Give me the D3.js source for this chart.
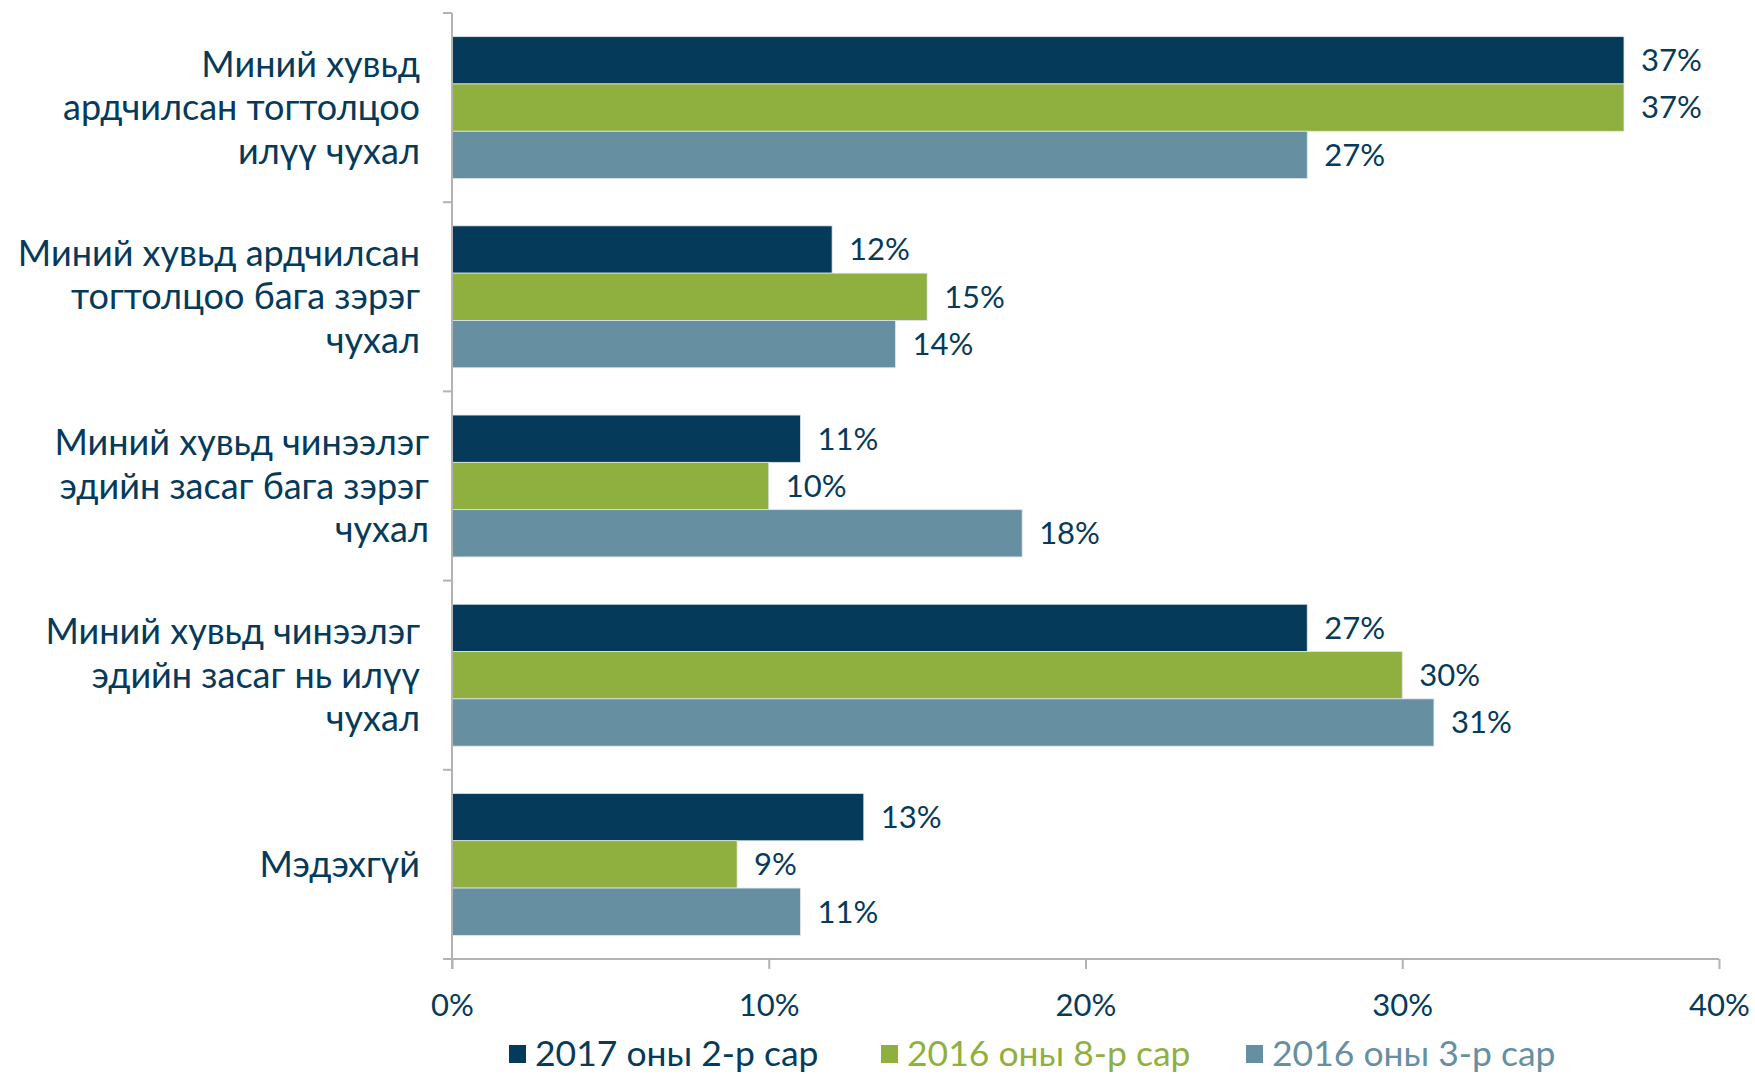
<!DOCTYPE html>
<html>
<head>
<meta charset="utf-8">
<script src="https://cdn.jsdelivr.net/npm/d3@7"></script>
<style>
  body { margin: 0; background: #fff; }
  text { font-family: Lato, "Open Sans", sans-serif; }
</style>
</head>
<body>
<div id="chart"></div>
<script>
// categories (each is split into its wrapped lines)
var categories = [
  ["Миний хувьд", "ардчилсан тогтолцоо", "илүү чухал"],
  ["Миний хувьд ардчилсан", "тогтолцоо бага зэрэг", "чухал"],
  ["Миний хувьд чинээлэг", "эдийн засаг бага зэрэг", "чухал"],
  ["Миний хувьд чинээлэг", "эдийн засаг нь илүү", "чухал"],
  ["Мэдэхгүй"]
];
var seriesNames = ["2017 оны 2-р сар", "2016 оны 8-р сар", "2016 оны 3-р сар"];
var feb2017 = [37, 12, 11, 27, 13];
var aug2016 = [37, 15, 10, 30, 9];
var mar2016 = [27, 14, 18, 31, 11];
var xTicks = [0, 10, 20, 30, 40];

var colors = ["#063a5a", "#8fb03f", "#668fa1"];
var textColor = "#063a5a";

var W = 1755, H = 1074;
var mLeft = 452, mRight = 1719, mTop = 13, mBottom = 959;

var svg = d3.select("#chart").append("svg")
  .attr("width", W)
  .attr("height", H);

var series = [feb2017, aug2016, mar2016];

// X scale
var x = d3.scaleLinear().domain([0, 40]).range([mLeft, mRight]);

// category bands
var y0 = d3.scaleBand()
  .domain(d3.range(categories.length))
  .range([mTop, mBottom])
  .paddingInner(0.25)
  .paddingOuter(0.125);

var y1 = d3.scaleBand()
  .domain(d3.range(series.length))
  .range([0, y0.bandwidth()]);

// Bars
var groups = svg.selectAll("g.grp")
  .data(categories)
  .enter().append("g")
  .attr("class", "grp")
  .attr("transform", function (d, i) { return "translate(0," + y0(i) + ")"; });

groups.each(function (c, i) {
  var g = d3.select(this);
  series.forEach(function (s, k) {
    g.append("rect")
      .attr("x", x(0))
      .attr("y", y1(k))
      .attr("width", x(s[i]) - x(0))
      .attr("height", y1.bandwidth())
      .attr("fill", colors[k])
      .attr("stroke", "#dfe6ea")
      .attr("stroke-width", 0.8);
    g.append("text")
      .attr("x", x(s[i]) + 17)
      .attr("y", y1(k) + y1.bandwidth() / 2)
      .attr("dy", "0.35em")
      .attr("font-size", "31px")
      .attr("fill", textColor)
      .text(s[i] + "%");
  });
});

// X Axis
var xAxisGroup = svg.append("g")
  .attr("transform", "translate(0," + mBottom + ")")
  .call(d3.axisBottom(x).tickValues(xTicks).tickSize(10).tickPadding(25)
    .tickFormat(function (d) { return d + "%"; }));
xAxisGroup.select(".domain").attr("stroke", "#b3b3b3").attr("stroke-width", 2)
  .attr("d", "M" + (mLeft - 9) + ",0H" + mRight);
xAxisGroup.selectAll(".tick line").attr("stroke", "#b3b3b3").attr("stroke-width", 2);
xAxisGroup.selectAll(".tick text")
  .attr("font-size", "31px")
  .attr("font-family", "Lato, sans-serif")
  .attr("fill", textColor);

// Y Axis (category boundaries)
var yAxisGroup = svg.append("g");
yAxisGroup.append("line")
  .attr("x1", mLeft).attr("x2", mLeft)
  .attr("y1", mTop).attr("y2", mBottom + 10)
  .attr("stroke", "#b3b3b3").attr("stroke-width", 2);
d3.range(categories.length + 1).forEach(function (i) {
  var yy = mTop + i * y0.step();
  yAxisGroup.append("line")
    .attr("x1", mLeft - 9).attr("x2", mLeft)
    .attr("y1", yy).attr("y2", yy)
    .attr("stroke", "#b3b3b3").attr("stroke-width", 2);
});

// category labels
var lineH = 43.5;
groups.each(function (c, i) {
  var g = d3.select(this);
  var cy = y0.bandwidth() / 2;
  var lx = i === 2 ? 429 : 420;
  var t = g.append("text")
    .attr("text-anchor", "end")
    .attr("font-size", "36px")
    .attr("fill", textColor);
  c.forEach(function (line, j) {
    t.append("tspan")
      .attr("x", lx)
      .attr("y", cy + (j - (c.length - 1) / 2) * lineH)
      .attr("dy", "0.35em")
      .text(line);
  });
});

// Legend
var legendX = [509, 881, 1246];
var legend = svg.append("g");
seriesNames.forEach(function (name, k) {
  legend.append("rect")
    .attr("x", legendX[k])
    .attr("y", 1054 - 9)
    .attr("width", 17)
    .attr("height", 18)
    .attr("fill", colors[k]);
  legend.append("text")
    .attr("x", legendX[k] + 26)
    .attr("y", 1054)
    .attr("dy", "0.35em")
    .attr("font-size", "35.5px")
    .attr("fill", colors[k])
    .text(name);
});
</script>
</body>
</html>
